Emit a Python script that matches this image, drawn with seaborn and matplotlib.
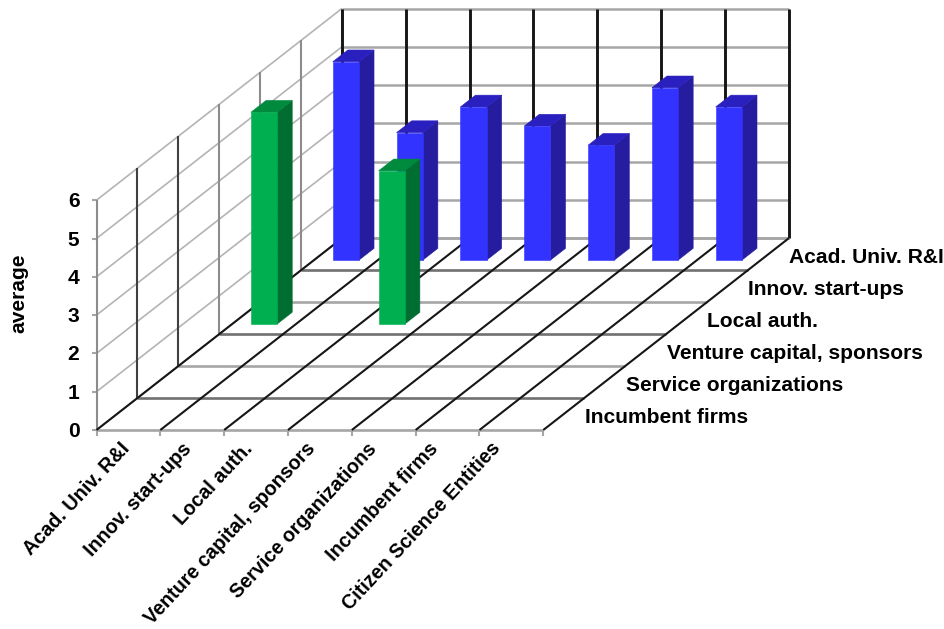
import matplotlib
matplotlib.use("Agg")
import matplotlib.pyplot as plt
from matplotlib.patches import Polygon
import pandas as pd
import seaborn as sns

# Actors on the width axis, and the rows on the depth axis (front to back)
categories = ["Acad. Univ. R&I", "Innov. start-ups", "Local auth.",
              "Venture capital, sponsors", "Service organizations",
              "Incumbent firms", "Citizen Science Entities"]
depth_rows = ["Incumbent firms", "Service organizations",
              "Venture capital, sponsors", "Local auth.",
              "Innov. start-ups", "Acad. Univ. R&I"]
value_ticks = [0, 1, 2, 3, 4, 5, 6]

# Averages per row; rows without bars are left out
acad_values = [5.18, 3.33, 4.0, 3.5, 3.0, 4.5, 4.0]
local_auth_cols = ["Acad. Univ. R&I", "Local auth."]
local_auth_values = [5.53, 4.0]

frame = pd.concat([
    pd.DataFrame({"col": categories, "row": "Acad. Univ. R&I", "average": acad_values}),
    pd.DataFrame({"col": local_auth_cols, "row": "Local auth.", "average": local_auth_values}),
])

# Oblique projection from (column, depth, value) to figure pixels
ORIGIN = (96.5, 430.0)
COL_STEP = 63.83
DEPTH_STEP = (40.9, -31.95)
VALUE_STEP = -38.3
BAR_WIDTH = 0.41
BAR_DEPTH = 0.37

def project(col, depth, value=0.0):
    return (ORIGIN[0] + col * COL_STEP + depth * DEPTH_STEP[0],
            ORIGIN[1] + depth * DEPTH_STEP[1] + value * VALUE_STEP)

sns.set_theme(style="white")
plt.rcParams["font.family"] = ["Liberation Sans", "DejaVu Sans"]

fig = plt.figure(figsize=(9.45, 6.29), dpi=100)
ax = fig.add_axes([0, 0, 1, 1])
ax.set_xlim(0, 945)
ax.set_ylim(629, 0)
ax.axis("off")

n_col, n_depth, top = len(categories), len(depth_rows), value_ticks[-1]
GRID = "#a6a6a6"
DARK = "#161616"

def segment(a, b, color, lw, z=1):
    ax.plot([a[0], b[0]], [a[1], b[1]], color=color, lw=lw, zorder=z,
            solid_capstyle="butt")

# Value gridlines across the left and back walls
for v in value_ticks:
    segment(project(0, 0, v), project(0, n_depth, v), "#b4b4b4", 1.2)
    segment(project(0, n_depth, v), project(n_col, n_depth, v), GRID, 1.8)
    segment(project(0, 0, v), (project(0, 0, v)[0] - 5, project(0, 0, v)[1]), GRID, 1.5)

# Floor lines running across the width
for d in range(n_depth + 1):
    shade = GRID if d in (0, 2, 4, 6) else "#707070"
    segment(project(0, d), project(n_col, d), shade, 1.9)

# Verticals of the left wall
for d in range(n_depth + 1):
    shade = "#404040" if d in (1, 2) else "#8c8c8c"
    segment(project(0, d), project(0, d, top), shade, 1.5)

# Verticals of the back wall and floor lines running into the depth
for c in range(n_col + 1):
    segment(project(c, n_depth), project(c, n_depth, top), DARK, 2.1, z=1.5)
    segment(project(c, 0), project(c, n_depth), DARK, 1.5, z=1.5)
    segment(project(c, 0), (project(c, 0)[0], project(c, 0)[1] + 6), GRID, 1.5)

PALETTE = {
    "Acad. Univ. R&I": ("#3333ff", "#261ca0", "#2a20c0"),
    "Local auth.": ("#00b050", "#006e31", "#008a3e"),
}

def draw_bar(col, depth, value, colours, z):
    front, side, cap = colours
    x0, x1 = col + (1 - BAR_WIDTH) / 2, col + (1 + BAR_WIDTH) / 2
    d0, d1 = depth + (1 - BAR_DEPTH) / 2, depth + (1 + BAR_DEPTH) / 2
    faces = [
        ([(x1, d0, 0), (x1, d1, 0), (x1, d1, value), (x1, d0, value)], side),
        ([(x0, d0, value), (x1, d0, value), (x1, d1, value), (x0, d1, value)], cap),
        ([(x0, d0, 0), (x1, d0, 0), (x1, d0, value), (x0, d0, value)], front),
    ]
    for corners, colour in faces:
        ax.add_patch(Polygon([project(*p) for p in corners], closed=True,
                             facecolor=colour, edgecolor=colour, lw=0.4, zorder=z))

# Bars are painted from the back row forward, left to right
ordered = frame.assign(
    col_i=frame["col"].map(categories.index),
    depth_i=frame["row"].map(depth_rows.index),
).sort_values(["depth_i", "col_i"], ascending=[False, True])
for z, rec in enumerate(ordered.itertuples()):
    draw_bar(rec.col_i, rec.depth_i, rec.average, PALETTE[rec.row], 3 + z * 0.01)

FS = 15.1
for v in value_ticks:
    x, y = project(0, 0, v)
    ax.text(x - 17, y + 1.5, str(v), ha="right", va="center",
            fontsize=FS, fontweight="bold", color="black")

# Slanted labels sit a little tighter than the columns they name
LABEL_STEP = 61.8
for c, label in enumerate(categories):
    x, y = project(0.5, 0)
    ax.text(x - 9 + c * LABEL_STEP, y + 9, label, rotation=47, rotation_mode="anchor",
            ha="right", va="top", fontsize=14.2, fontweight="bold", color="black")

for d, label in enumerate(depth_rows):
    x, y = project(n_col, d + 0.5)
    ax.text(x + 21, y + 3.5, label, ha="left", va="center",
            fontsize=FS, fontweight="bold", color="black")

ax.text(19, 293, "average", rotation=90, ha="center", va="center",
        fontsize=FS, fontweight="bold", color="black")

fig.savefig("out.png", dpi=100, facecolor="white")
